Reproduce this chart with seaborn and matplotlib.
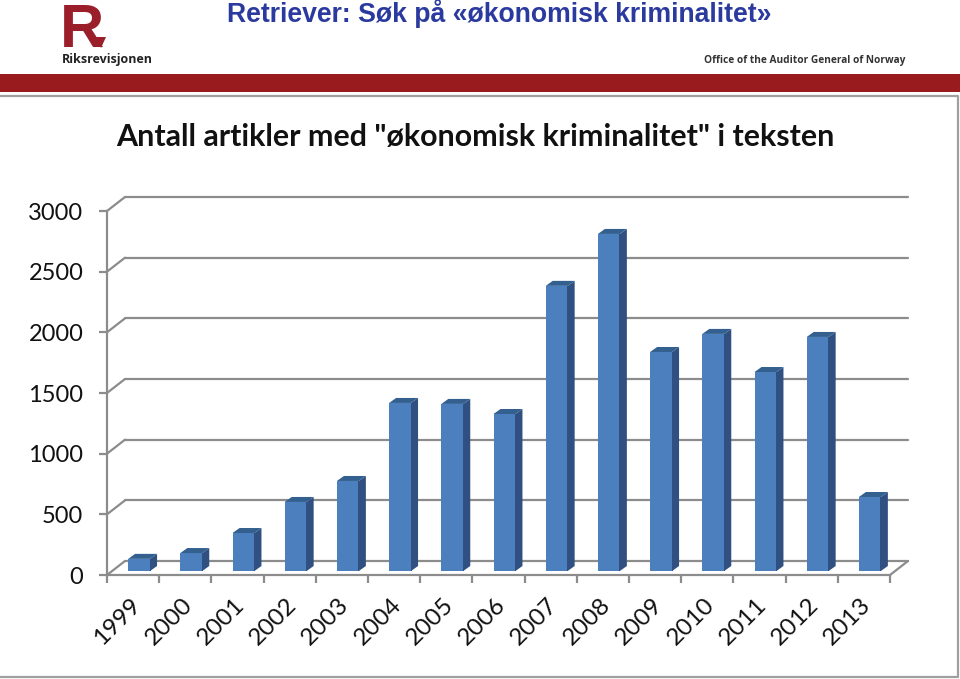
import matplotlib
matplotlib.use('Agg')
import matplotlib.pyplot as plt
import pandas as pd
import seaborn as sns
from matplotlib.patches import Polygon, Rectangle

years = ['1999', '2000', '2001', '2002', '2003', '2004', '2005', '2006',
         '2007', '2008', '2009', '2010', '2011', '2012', '2013']
articles = [100, 148, 313, 569, 742, 1385, 1377, 1294,
            2350, 2778, 1805, 1954, 1640, 1929, 610]
yticks = [0, 500, 1000, 1500, 2000, 2500, 3000]

W, H = 960, 679
GREY = '#8c8c8c'
FRONT = '#4c7fbe'
SIDE = '#2f5080'
TOP = '#33608f'

sns.set_theme(style='white')
plt.rcParams['font.family'] = ['Lato', 'DejaVu Sans']

df = pd.DataFrame({'year': years, 'articles': articles})


def axes_px(fig, x0, x1, y_bottom, y_top):
    # axes placed in reference pixels
    ax = fig.add_axes([x0 / W, 1 - y_bottom / H, (x1 - x0) / W, (y_bottom - y_top) / H])
    ax.set_facecolor('none')
    ax.set_xlim(-0.5, 14.5)
    ax.set_ylim(0, 3000)
    return ax


fig = plt.figure(figsize=(9.6, 6.79), dpi=100, facecolor='white')

# page furniture
page = fig.add_axes([0, 0, 1, 1])
page.set_xlim(0, W)
page.set_ylim(H, 0)
page.axis('off')
page.add_patch(Rectangle((0, 74), W, 18, color='#9a1b1e', lw=0))
page.plot([0, 958, 958, 0], [95.5, 95.5, 676.5, 676.5], color='#a0a0a0', lw=1.6)
page.text(499, 13, 'Retriever: Søk på «økonomisk kriminalitet»', family='Liberation Sans',
          weight='bold', fontsize=19.2, color='#2b3a9e', ha='center', va='center')
page.text(60, 47, 'R', family='Liberation Sans', weight='bold', fontsize=44,
          color='#9a1f2b', ha='left', va='baseline')
page.add_patch(Polygon([(96, 37), (106, 37), (101, 48)], color='#9a1f2b', lw=0))
page.text(62, 60, 'Riksrevisjonen', family='Open Sans', weight='bold', fontsize=9,
          color='#222222', ha='left', va='center')
page.text(704, 60, 'Office of the Auditor General of Norway', family='Open Sans',
          weight='bold', fontsize=7.3, color='#333333', ha='left', va='center')
page.text(475, 137, 'Antall artikler med "økonomisk kriminalitet" i teksten', weight='bold',
          fontsize=21.9, color='#111111', ha='center', va='center')

# side walls of the 3d box
for v in yticks:
    y = 575 - v * 364 / 3000
    page.plot([107, 125], [y, y - 14], color=GREY, lw=1.6, solid_capstyle='round')
page.plot([890, 908], [575, 561], color=GREY, lw=1.6, solid_capstyle='round')

# back wall
back = axes_px(fig, 125, 908, 561, 197)
back.set_xticks([])
back.set_yticks(yticks)
back.tick_params(left=False, labelleft=False)
back.grid(axis='y', color=GREY, lw=1.6)
back.set_axisbelow(True)
sns.despine(ax=back, left=True, bottom=True)
for line in back.get_ygridlines():
    line.set_clip_on(False)

# front axis with ticks and labels
front = axes_px(fig, 107, 890, 575, 211)
front.set_yticks(yticks)
front.set_yticklabels([str(v) for v in yticks], fontsize=17, color='#111111')
# labels end left of the bar centre
front.set_xticks([i - 0.07 for i in range(15)])
front.set_xticklabels(years, rotation=45, ha='right', rotation_mode='anchor',
                      fontsize=17.5, color='#111111')
front.tick_params(axis='y', left=True, length=6, width=1.6, color=GREY, pad=11)
front.tick_params(axis='x', bottom=False, pad=8)
front.set_xticks([i - 0.5 for i in range(16)], minor=True)
front.tick_params(axis='x', which='minor', bottom=True, length=6, width=1.6, color=GREY)
sns.despine(ax=front)
for side in ['left', 'bottom']:
    front.spines[side].set_color(GREY)
    front.spines[side].set_linewidth(1.6)

# bars sit a little behind the front axis
bars = axes_px(fig, 113, 896, 571, 207)
sns.barplot(data=df, x='year', y='articles', order=years, color=FRONT, saturation=1,
            width=0.42, linewidth=0, ax=bars)
bars.set_xlim(-0.5, 14.5)
bars.set_ylim(0, 3000)
bars.axis('off')

dx = 7 / (783 / 15)
dy = 5 * 3000 / 364
seam = 0.01  # small overlap so no white sliver shows between faces
faces = list(bars.patches)
for p in faces:
    x0, w, h = p.get_x(), p.get_width(), p.get_height()
    x1 = x0 + w
    bars.add_patch(Polygon([(x1, 0), (x1 + dx, dy), (x1 + dx, h + dy), (x1, h)],
                           color=SIDE, lw=0, clip_on=False, zorder=1))
    bars.add_patch(Polygon([(x0, h), (x0 + dx, h + dy), (x1 + dx, h + dy), (x1, h)],
                           color=TOP, lw=0, clip_on=False, zorder=1))
    bars.add_patch(Rectangle((x1 - seam, 0), 2 * seam, h, color=SIDE, lw=0, zorder=1))

fig.savefig('out.png', dpi=100)
